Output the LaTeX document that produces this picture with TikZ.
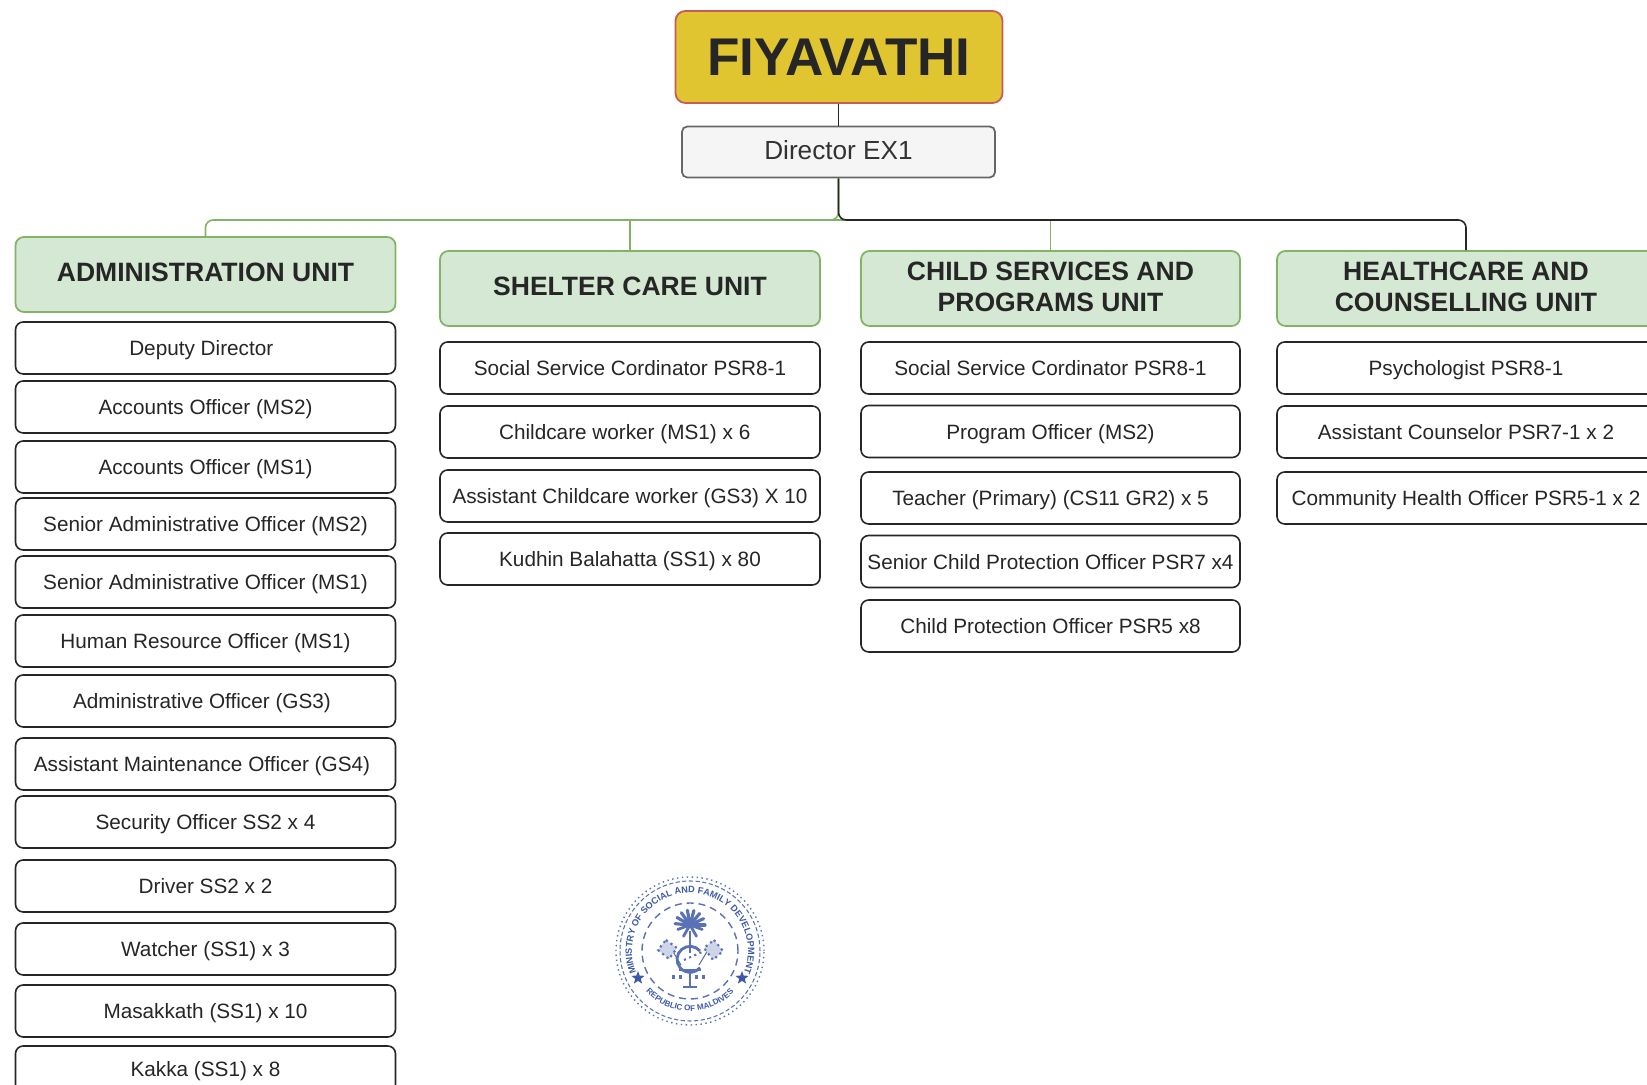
\documentclass[tikz,border=0pt]{standalone}
\usepackage{fontspec}
\setmainfont{Liberation Sans}
\usetikzlibrary{decorations.text,shapes.geometric}
\tikzset{
    titlebox/.style={shape=rectangle,draw=fiya_titleline,fill=fiya_title,rounded corners=2.8pt,line width=0.5pt,text=fiya_text,font=\fontsize{15.1}{16}\selectfont\bfseries,minimum width=3.27cm,minimum height=0.92cm},
    headbox/.style={shape=rectangle,draw=fiya_green,fill=fiya_bggreen,rounded corners=2.4pt,line width=0.5pt,text=fiya_text,font=\fontsize{7.55}{9}\selectfont\bfseries,align=center,text depth=1.1pt,inner ysep=0pt,minimum width=3.80cm,minimum height=0.75cm},
    jobbox/.style={shape=rectangle,draw=fiya_text,fill=white,rounded corners=2.2pt,line width=0.45pt,text=fiya_text,font=\fontsize{5.9}{7}\selectfont,text height=4.3pt,text depth=0pt,minimum width=3.80cm,minimum height=0.52cm,inner sep=0pt},
    greenlink/.style={draw=fiya_green,line width=0.45pt},
    darklink/.style={draw=fiya_text,line width=0.45pt}
}
\begin{document}
\begin{tikzpicture}
    \definecolor{fiya_title}{RGB}{224,197,48}
    \definecolor{fiya_titleline}{RGB}{200,90,90}
    \definecolor{fiya_green}{RGB}{130,179,102}
    \definecolor{fiya_bggreen}{RGB}{213,232,212}
    \definecolor{fiya_text}{RGB}{38,38,38}
    \definecolor{fiya_seal}{RGB}{62,88,168}
    \clip (0,0) rectangle (16.47,10.85);
    % top of the chart
    \node[titlebox] (title) at (8.39,10.28) {FIYAVATHI};
    \node[shape=rectangle,draw=black!60,fill=black!4,rounded corners=1.5pt,line width=0.5pt,text=black!80,font=\fontsize{7.45}{9}\selectfont,text depth=1.4pt,minimum width=3.13cm,minimum height=0.51cm] (director) at (8.385,9.33) {Director EX1};
    \coordinate (bus) at (8.385,8.65);
    % unit headers
    \node[headbox] (admin) at (2.055,8.105) {ADMINISTRATION UNIT};
    \node[headbox] (shelter) at (6.30,7.965) {SHELTER CARE UNIT};
    \node[headbox,minimum width=3.79cm] (child) at (10.505,7.965) {CHILD SERVICES AND\\PROGRAMS UNIT};
    \node[headbox,minimum width=3.78cm] (health) at (14.66,7.965) {HEALTHCARE AND\\COUNSELLING UNIT};
    % connectors
    \draw[greenlink,rounded corners=2.2pt] (director.south) -- (bus) -| (admin.north);
    \draw[greenlink] (bus) -| (shelter.north);
    \draw[greenlink] (bus) -| (child.north);
    \draw[darklink] (title.south -| director.north) -- (director.north);
    \draw[darklink,rounded corners=2.2pt] (director.south) -- (bus) -| (health.north);
    % administration unit
    \node[jobbox] (deputy) at (2.055,7.37) {Deputy Director\kern2.4pt};
    \node[jobbox] (accountstwo) at (2.055,6.78) {Accounts Officer (MS2)};
    \node[jobbox] (accountsone) at (2.055,6.18) {Accounts Officer (MS1)};
    \node[jobbox] (seniortwo) at (2.055,5.61) {Senior Administrative Officer (MS2)};
    \node[jobbox] (seniorone) at (2.055,5.03) {Senior Administrative Officer (MS1)};
    \node[jobbox] (human) at (2.055,4.44) {Human Resource Officer (MS1)};
    \node[jobbox] (adminofficer) at (2.055,3.84) {Administrative Officer (GS3)\kern2pt};
    \node[jobbox] (maintenance) at (2.055,3.21) {Assistant Maintenance Officer (GS4)\kern2pt};
    \node[jobbox] (security) at (2.055,2.63) {Security Officer SS2 x 4};
    \node[jobbox] (driver) at (2.055,1.99) {Driver SS2 x 2};
    \node[jobbox] (watcher) at (2.055,1.36) {Watcher (SS1) x 3};
    \node[jobbox] (masakkath) at (2.055,0.74) {Masakkath (SS1) x 10};
    \node[jobbox,minimum height=0.46cm] (kakka) at (2.055,0.16) {Kakka (SS1) x 8};
    % shelter care unit
    \node[jobbox] (shelterone) at (6.30,7.17) {Social Service Cordinator PSR8-1};
    \node[jobbox] (sheltertwo) at (6.30,6.53) {Childcare worker (MS1) x 6\kern3pt};
    \node[jobbox] (shelterthree) at (6.30,5.89) {Assistant Childcare worker (GS3) X 10};
    \node[jobbox] (shelterfour) at (6.30,5.26) {Kudhin Balahatta (SS1) x 80};
    % child services and programs unit
    \node[jobbox,minimum width=3.79cm] (childone) at (10.505,7.17) {Social Service Cordinator PSR8-1};
    \node[jobbox,minimum width=3.79cm] (childtwo) at (10.505,6.535) {Program Officer (MS2)};
    \node[jobbox,minimum width=3.79cm] (childthree) at (10.505,5.87) {Teacher (Primary) (CS11 GR2) x 5};
    \node[jobbox,minimum width=3.79cm] (childfour) at (10.505,5.235) {Senior Child Protection Officer PSR7 x4};
    \node[jobbox,minimum width=3.79cm] (childfive) at (10.505,4.59) {Child Protection Officer PSR5 x8};
    % healthcare and counselling unit
    \node[jobbox,minimum width=3.78cm] (healthone) at (14.66,7.17) {Psychologist PSR8-1};
    \node[jobbox,minimum width=3.78cm] (healthtwo) at (14.66,6.53) {Assistant Counselor PSR7-1 x 2};
    \node[jobbox,minimum width=3.78cm] (healththree) at (14.66,5.87) {Community Health Officer PSR5-1 x 2};
    % seal
    \begin{scope}[shift={(6.90,1.34)},draw=fiya_seal!85,fill=fiya_seal,text=fiya_seal]
        \draw[line width=0.4pt,densely dotted] (0,0) circle (0.74);
        \draw[line width=0.3pt,dash pattern=on 1.2pt off 0.7pt] (0,0) circle (0.70);
        \draw[line width=0.4pt,dash pattern=on 2pt off 1.4pt] (0,0) circle (0.48);
        \path[decorate,decoration={text along path,text align=center,text={|\fontsize{2.6}{3}\selectfont\bfseries\color{fiya_seal}|MINISTRY OF SOCIAL AND FAMILY DEVELOPMENT}}] (205:0.58) arc (205:-25:0.58);
        \path[decorate,decoration={text along path,text align=center,text={|\fontsize{2.3}{3}\selectfont\bfseries\color{fiya_seal}|REPUBLIC OF MALDIVES}}] (222:0.60) arc (222:318:0.60);
        \node[star,star points=5,star point ratio=2.4,fill,inner sep=0pt,minimum size=0.14cm] (starleft) at (-0.52,-0.27) {};
        \node[star,star points=5,star point ratio=2.4,fill,inner sep=0pt,minimum size=0.14cm] (starright) at (0.52,-0.27) {};
        % palm
        \draw[line width=0.8pt] (0,-0.02) -- (0,0.2);
        \foreach \a in {0,25,...,180} {
            \draw[line width=0.9pt,line cap=round] (0,0.26) -- ++(\a:0.15);
        }
        \foreach \a in {200,240,300,340} {
            \draw[line width=0.8pt,line cap=round] (0,0.26) -- ++(\a:0.13);
        }
        % flags
        \draw[line width=0.3pt] (-0.09,-0.14) -- (-0.24,0.11);
        \draw[line width=0.3pt] (0.09,-0.14) -- (0.24,0.11);
        \draw[line width=0.6pt,densely dotted,fill=fiya_seal!25] (-0.24,0.11) -- (-0.13,0.03) -- (-0.21,-0.08) -- (-0.32,0.01) -- cycle;
        \draw[line width=0.6pt,densely dotted,fill=fiya_seal!25] (0.24,0.11) -- (0.33,0) -- (0.23,-0.09) -- (0.14,0.03) -- cycle;
        % crescent and base
        \draw[line width=0.8pt] (0.10,0.0) arc (40:320:0.13);
        \draw[line width=0.6pt,densely dotted] (-0.06,-0.09) -- (0.12,-0.01);
        \draw[line width=0.7pt] (-0.11,-0.19) -- (0.11,-0.19);
        \draw[line width=0.8pt] (0,-0.22) -- (0,-0.36);
        \draw[line width=0.6pt] (-0.07,-0.36) -- (0.07,-0.36);
        \draw[line width=0.9pt,densely dotted] (-0.18,-0.26) -- (-0.05,-0.26) (0.05,-0.26) -- (0.18,-0.26);
    \end{scope}
\end{tikzpicture}
\end{document}
